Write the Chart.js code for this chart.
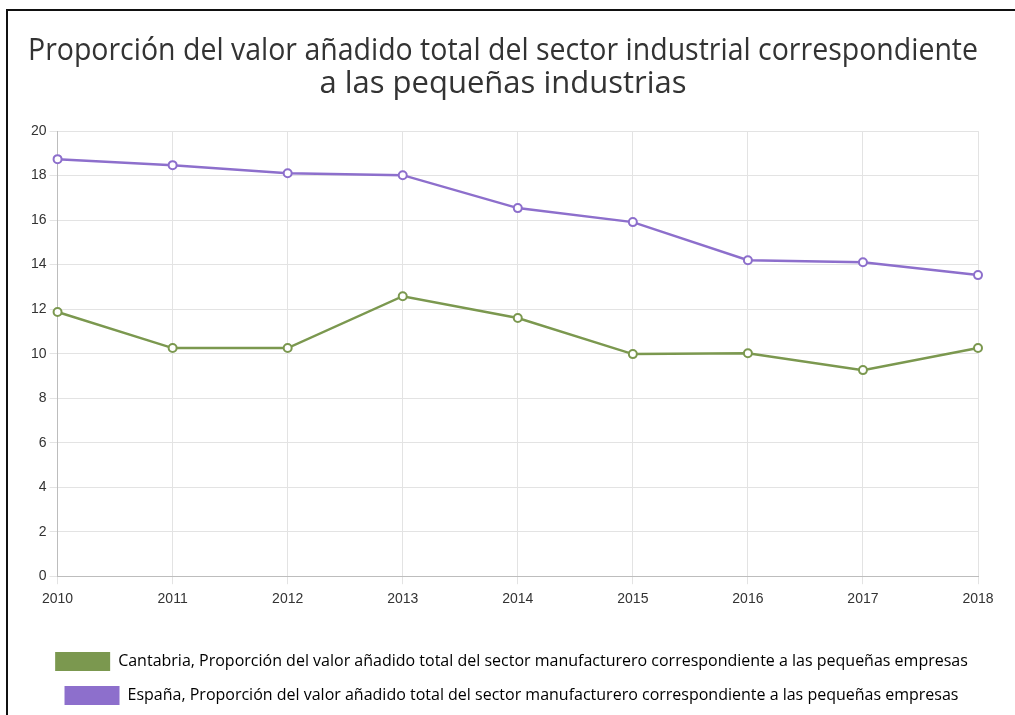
<!DOCTYPE html>
<html lang="es">
<head>
<meta charset="utf-8">
<title>Proporción del valor añadido</title>
<script src="https://cdn.jsdelivr.net/npm/chart.js@4/dist/chart.umd.min.js"></script>
<style>
  html, body { margin: 0; padding: 0; background: #fff; }
  .chart-box {
    position: absolute;
    left: 6px; top: 9px;
    width: 1009px; height: 706px;
    border-top: 2px solid #111;
    border-left: 2px solid #111;
    box-sizing: border-box;
  }
  .chart-box canvas { display: block; }
</style>
</head>
<body>
<div class="chart-box"><canvas id="chart" width="1007" height="704"></canvas></div>
<script>
// ── Data ──────────────────────────────────────────────────
const years = ['2010', '2011', '2012', '2013', '2014', '2015', '2016', '2017', '2018'];
const cantabria = [11.87, 10.25, 10.25, 12.58, 11.60, 9.98, 10.02, 9.26, 10.25];
const espana    = [18.74, 18.47, 18.11, 18.02, 16.54, 15.91, 14.20, 14.11, 13.53];

const cantabriaLabel = 'Cantabria, Proporción del valor añadido total del sector manufacturero correspondiente a las pequeñas empresas';
const espanaLabel    = 'España, Proporción del valor añadido total del sector manufacturero correspondiente a las pequeñas empresas';

const GREEN  = '#7b984f';
const PURPLE = '#8d6fcc';

const PAD_LEFT = 20;
const PAD_RIGHT = 37;

function lineSet(label, data, color) {
  return {
    label,
    data,
    borderColor: color,
    backgroundColor: color,
    borderWidth: 2.5,
    pointRadius: 4,
    pointBorderWidth: 2,
    pointBackgroundColor: '#fff',
    pointBorderColor: color,
    tension: 0,
    fill: false
  };
}

// Re-centre the legend on the whole canvas (layout padding is uneven)
const centreLegend = {
  id: 'centreLegend',
  afterLayout(chart) {
    const shift = (PAD_RIGHT - PAD_LEFT) / 2;
    chart.legend.left += shift;
    chart.legend.right += shift;
  }
};

// ── Chart ─────────────────────────────────────────────────
new Chart(document.getElementById('chart'), {
  type: 'line',
  data: {
    labels: years,
    datasets: [
      lineSet(cantabriaLabel, cantabria, GREEN),
      lineSet(espanaLabel, espana, PURPLE)
    ]
  },
  plugins: [centreLegend],
  options: {
    responsive: false,
    animation: false,
    layout: { padding: { left: PAD_LEFT, right: PAD_RIGHT, top: 0, bottom: 0 } },
    plugins: {
      title: {
        display: true,
        text: [
          'Proporción del valor añadido total del sector industrial correspondiente',
          'a las pequeñas industrias'
        ],
        color: '#333',
        font: { family: '"Open Sans"', size: 31, weight: 'normal', lineHeight: 1.05 },
        padding: { top: 24, bottom: 31 }
      },
      legend: {
        position: 'bottom',
        labels: {
          color: '#666',
          font: { family: '"Open Sans"', size: 16 },
          boxWidth: 55,
          boxHeight: 19,
          padding: 15,
          generateLabels: chart => chart.data.datasets.map((ds, i) => ({
            text: ds.label,
            fillStyle: ds.borderColor,
            strokeStyle: ds.borderColor,
            lineWidth: 0,
            datasetIndex: i,
            hidden: false
          }))
        }
      },
      tooltip: { enabled: false }
    },
    scales: {
      x: {
        grid: { color: '#e3e3e3', lineWidth: 1, tickLength: 8 },
        border: { color: '#bdbdbd' },
        ticks: { color: '#333', padding: 7, font: { family: '"Liberation Sans"', size: 14 }, maxRotation: 0 },
        // leave room between the year labels and the legend
        afterFit: axis => { axis.height += 22; }
      },
      y: {
        min: 0,
        max: 20,
        grid: { color: '#e3e3e3', lineWidth: 1, tickLength: 8 },
        border: { color: '#bdbdbd' },
        ticks: { stepSize: 2, color: '#333', font: { family: '"Liberation Sans"', size: 14 } }
      }
    }
  }
});
</script>
</body>
</html>
